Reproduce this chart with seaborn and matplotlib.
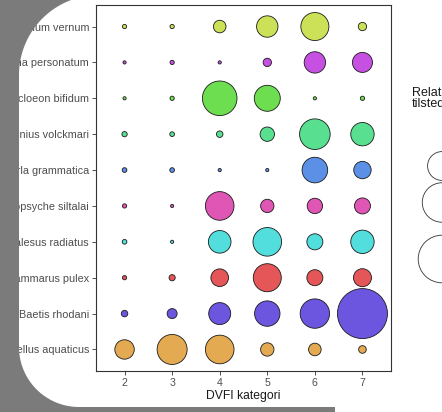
import numpy as np
import pandas as pd
import matplotlib
matplotlib.use("Agg")
import matplotlib.pyplot as plt
from matplotlib.colors import FuncNorm
from matplotlib.path import Path
from matplotlib.patches import PathPatch
import seaborn as sns

# ---- data -------------------------------------------------------------
dvfi_categories = [2, 3, 4, 5, 6, 7]

species = [
    "Simulium vernum",
    "Sericostoma personatum",
    "Procloeon bifidum",
    "Limnius volckmari",
    "Isoperla grammatica",
    "Hydropsyche siltalai",
    "Halesus radiatus",
    "Gammarus pulex",
    "Baetis rhodani",
    "Asellus aquaticus",
]

simulium_vernum = [0.0005, 0.0005, 0.040, 0.151, 0.281, 0.012]
sericostoma_personatum = [0.0, 0.0005, 0.0, 0.012, 0.151, 0.129]
procloeon_bifidum = [0.0, 0.0005, 0.450, 0.237, 0.0, 0.0005]
limnius_volckmari = [0.002, 0.001, 0.005, 0.057, 0.343, 0.186]
isoperla_grammatica = [0.001, 0.001, 0.0, 0.0, 0.229, 0.092]
hydropsyche_siltalai = [0.0005, 0.0, 0.295, 0.047, 0.068, 0.075]
halesus_radiatus = [0.001, 0.0, 0.172, 0.295, 0.075, 0.186]
gammarus_pulex = [0.0005, 0.004, 0.095, 0.281, 0.075, 0.100]
baetis_rhodani = [0.005, 0.021, 0.161, 0.225, 0.313, 1.0]
asellus_aquaticus = [0.120, 0.328, 0.295, 0.047, 0.040, 0.009]

species_colors = [
    "#CDE158", "#C550E2", "#6DDE4F", "#58E090", "#5C90E6",
    "#E056B4", "#52DEDC", "#E45658", "#6C56E0", "#E4AA52",
]

legend_breaks = [0.3, 0.6, 0.9]

rows = [simulium_vernum, sericostoma_personatum, procloeon_bifidum,
        limnius_volckmari, isoperla_grammatica, hydropsyche_siltalai,
        halesus_radiatus, gammarus_pulex, baetis_rhodani, asellus_aquaticus]

df = pd.DataFrame(
    [(sp, cat, val) for sp, vals in zip(species, rows)
     for cat, val in zip(dvfi_categories, vals)],
    columns=["art", "dvfi", "tilstede"],
)

# ---- size scale: diameter grows with sqrt(value), with a minimum dot --
W, H = 442, 412
px = 72 / 100.0                      # points per pixel at dpi 100
d_min, d_max = 3.2 * px, 50 * px     # marker diameters in points
c = d_min / (d_max - d_min)
size_norm = FuncNorm((lambda v: (c + np.sqrt(np.clip(v, 0, None))) ** 2,
                      lambda y: (np.sqrt(y) - c) ** 2), vmin=0.0, vmax=1.0)
size_range = (d_min ** 2, d_max ** 2)

plt.rcParams["font.family"] = ["Liberation Sans", "DejaVu Sans"]

fig = plt.figure(figsize=(W / 100, H / 100), dpi=100, facecolor="white")


def fx(x):
    return x / W


def fy(y):
    return 1 - y / H


ax = fig.add_axes([fx(96), fy(371), fx(391) - fx(96), fy(5) - fy(371)])

sns.scatterplot(
    data=df, x="dvfi", y="art", hue="art", palette=species_colors,
    hue_order=species, size="tilstede", sizes=size_range,
    size_norm=size_norm, edgecolor="#1a1a1a", linewidth=0.6,
    alpha=1, legend=False, ax=ax, zorder=3,
)

ax.set_xlim(1.4, 7.6)
ax.set_ylim(len(species) - 1 + 0.6, -0.6)
ax.set_xticks(dvfi_categories)
ax.set_xticklabels([str(v) for v in dvfi_categories])
ax.set_yticks(range(len(species)))
ax.set_yticklabels(species)
ax.set_xlabel("DVFI kategori", fontsize=8.7, color="#1a1a1a", labelpad=1.5)
ax.set_ylabel("")
ax.tick_params(axis="x", labelsize=7.6)
ax.tick_params(axis="y", labelsize=7.8)
ax.tick_params(axis="both", length=3, width=0.6, color="#333333",
               labelcolor="#4D4D4D", pad=2)
for s in ax.spines.values():
    s.set_visible(True)
    s.set_color("#333333")
    s.set_linewidth(0.8)
ax.grid(False)
ax.set_facecolor("white")

# ---- size legend --------------------------------------------------------
lax = fig.add_axes([fx(370), fy(330), fx(470) - fx(370), fy(80) - fy(330)])
lax.set_xlim(370, 470)
lax.set_ylim(330, 80)
lax.axis("off")
leg_df = pd.DataFrame({"x": [442, 442, 442], "y": [166, 202.5, 259],
                       "tilstede": legend_breaks})
sns.scatterplot(
    data=leg_df, x="x", y="y", size="tilstede", sizes=size_range,
    size_norm=size_norm, facecolor="none", edgecolor="#333333",
    linewidth=0.6, legend=False, ax=lax,
)
lax.set_xlim(370, 470)
lax.set_ylim(330, 80)
lax.text(412, 87, "Relativ\ntilstedeværelse", fontsize=9, color="#1a1a1a",
         va="top", ha="left", linespacing=0.85)

# ---- slide frame around the chart ---------------------------------------
t_top = np.linspace(np.arcsin(75 / 80), 0, 40)
top_arc = [(fx(99 - 80 * np.cos(t)), fy(75 - 80 * np.sin(t))) for t in t_top]
t_bot = np.linspace(0, np.pi / 2, 40)
bot_arc = [(fx(79 - 60 * np.cos(t)), fy(347 + 60 * np.sin(t))) for t in t_bot]
verts = ([(0, 1)] + top_arc + bot_arc +
         [(fx(335), fy(407)), (fx(335), 0), (0, 0), (0, 1)])
codes = [Path.MOVETO] + [Path.LINETO] * (len(verts) - 2) + [Path.CLOSEPOLY]
frame = PathPatch(Path(verts, codes), transform=fig.transFigure,
                  facecolor="#7b7b7b", edgecolor="none", zorder=10)
fig.add_artist(frame)

fig.savefig("out.png", dpi=100, facecolor="white")
